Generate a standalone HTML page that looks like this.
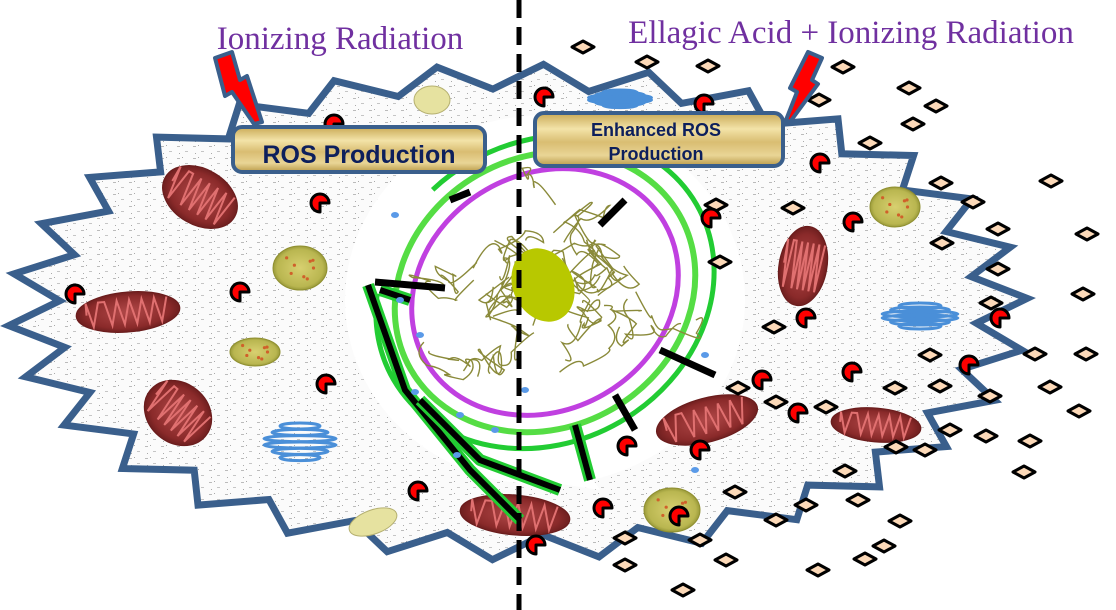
<!DOCTYPE html>
<html><head><meta charset="utf-8"><style>
html,body{margin:0;padding:0;background:#fff;width:1116px;height:610px;overflow:hidden}
svg{display:block}
</style></head><body>
<svg id="s" width="1116" height="610" viewBox="0 0 1116 610" xmlns="http://www.w3.org/2000/svg">
<defs>
<linearGradient id="gold" x1="0" y1="0" x2="0" y2="1">
<stop offset="0" stop-color="#c9a955"/><stop offset="0.3" stop-color="#f3e3a8"/><stop offset="0.55" stop-color="#d9bd72"/><stop offset="0.8" stop-color="#e9d596"/><stop offset="1" stop-color="#b99a48"/>
</linearGradient>
<pattern id="dots" width="16" height="12" patternUnits="userSpaceOnUse">
<rect width="16" height="12" fill="#fbfbfb"/>
<rect x="1" y="2" width="3" height="1" fill="#bbb"/><rect x="9" y="7" width="3" height="1" fill="#c5c5c5"/><rect x="6" y="1" width="1" height="1" fill="#aaa"/><rect x="3" y="9" width="1" height="1" fill="#aaa"/>
</pattern>
<radialGradient id="mito" cx="0.5" cy="0.5" r="0.5"><stop offset="0" stop-color="#b04848"/><stop offset="0.8" stop-color="#8a2a2a"/><stop offset="1" stop-color="#6e1f1f"/></radialGradient>
<radialGradient id="lyso" cx="0.5" cy="0.5" r="0.5"><stop offset="0" stop-color="#d8d070"/><stop offset="0.85" stop-color="#b9b650"/><stop offset="1" stop-color="#9a9a3a"/></radialGradient>
</defs>
<g id="cell"></g>
<ellipse cx="545" cy="300" rx="200" ry="185" fill="#fff"/>
<path d="M360 290 L470 470 L600 490 L560 430 L380 280 Z" fill="#fff"/>
<g id="org"></g>
<g id="nuc"></g>
<g id="dia"></g>
<g id="pac"></g>
<line x1="519" y1="0" x2="519" y2="610" stroke="#000" stroke-width="5" stroke-dasharray="18,9"/>
<polygon points="215,58 232,52 240,80 247,76 262,122 254,124 232,92 225,96" fill="#f00" stroke="#3a5f8c" stroke-width="4" stroke-linejoin="round"/>
<polygon points="808,52 822,58 812,80 818,84 790,122 786,120 797,92 790,88" fill="#f00" stroke="#3a5f8c" stroke-width="4" stroke-linejoin="round"/>
<rect x="233" y="127" width="252" height="45" rx="9" fill="url(#gold)" stroke="#3a5f8c" stroke-width="4"/>
<text x="359" y="163" text-anchor="middle" font-family="Liberation Sans, sans-serif" font-weight="bold" font-size="25" fill="#0d1f5c">ROS Production</text>
<rect x="535" y="113" width="248" height="53" rx="9" fill="url(#gold)" stroke="#3a5f8c" stroke-width="4"/>
<text x="656" y="136" text-anchor="middle" font-family="Liberation Sans, sans-serif" font-weight="bold" font-size="18" fill="#0d1f5c">Enhanced ROS</text>
<text x="656" y="160" text-anchor="middle" font-family="Liberation Sans, sans-serif" font-weight="bold" font-size="18" fill="#0d1f5c">Production</text>
<text x="340" y="49" text-anchor="middle" font-family="Liberation Serif, serif" font-size="33" fill="#7030a0">Ionizing Radiation</text>
<text x="851" y="43" text-anchor="middle" font-family="Liberation Serif, serif" font-size="33" fill="#7030a0">Ellagic Acid + Ionizing Radiation</text>
</svg>
<script>
var NS="http://www.w3.org/2000/svg";
function el(p,t,a){var e=document.createElementNS(NS,t);for(var k in a)e.setAttribute(k,a[k]);document.getElementById(p).appendChild(e);return e;}
var pts=[],N=30,cx=518,cy=312;
for(var i=0;i<N*2;i++){var a=i/(N*2)*Math.PI*2+0.05;var r=(i%2?1:0.9);pts.push((cx+Math.cos(a)*510*r).toFixed(1)+","+(cy+Math.sin(a)*248*r).toFixed(1));}
el("cell","polygon",{points:pts.join(" "),fill:"url(#dots)",stroke:"#3a5f8c","stroke-width":7,"stroke-linejoin":"miter"});
var mitos=[[200,197,40,28,30],[128,312,52,20,-5],[178,413,36,30,40],[803,266,24,40,10],[707,420,52,22,-15],[876,425,45,17,5],[515,515,55,20,5]];
mitos.forEach(function(m){var g=el("org","g",{transform:"translate("+m[0]+","+m[1]+") rotate("+m[4]+")"});
var e=document.createElementNS(NS,"ellipse");e.setAttribute("rx",m[2]);e.setAttribute("ry",m[3]);e.setAttribute("fill","url(#mito)");e.setAttribute("stroke","#6a1c1c");g.appendChild(e);
var p=document.createElementNS(NS,"path");var d="M"+(-m[2]*0.8)+",0";for(var k=-0.8;k<0.8;k+=0.12){d+=" L"+(m[2]*k)+","+(m[3]*0.6*((Math.round(k*8)%2)?1:-1));}
p.setAttribute("d",d);p.setAttribute("stroke","#e07070");p.setAttribute("stroke-width",2);p.setAttribute("fill","none");g.appendChild(p);});
[[300,268,27,22],[895,207,25,20],[255,352,25,14],[672,510,28,22]].forEach(function(l){el("org","ellipse",{cx:l[0],cy:l[1],rx:l[2],ry:l[3],fill:"url(#lyso)",stroke:"#8f8f30"});
for(var j=0;j<8;j++)el("org","circle",{cx:l[0]+Math.cos(j)*l[2]*0.5,cy:l[1]+Math.sin(j*1.7)*l[3]*0.5,r:1.6,fill:"#d0602a"});});
el("org","ellipse",{cx:432,cy:100,rx:18,ry:14,fill:"#e6e2a0",stroke:"#b5b070"});
el("org","ellipse",{cx:373,cy:522,rx:25,ry:12,fill:"#e6e2a0",stroke:"#b5b070",transform:"rotate(-20 373 522)"});
[[300,445,40,38],[920,318,42,24],[620,100,35,14]].forEach(function(g){for(var j=0;j<6;j++)el("org","ellipse",{cx:g[0],cy:g[1]-g[3]/2+j*g[3]/6,rx:g[2]*(1-Math.abs(j-2.5)/5),ry:3,fill:"none",stroke:"#4a8fd8","stroke-width":3});});
el("nuc","ellipse",{cx:545,cy:292,rx:175,ry:150,fill:"none",stroke:"#22cc33","stroke-width":5,transform:"rotate(-30 545 292)","stroke-dasharray":"600,120"});
el("nuc","ellipse",{cx:545,cy:292,rx:155,ry:135,fill:"none",stroke:"#55dd44","stroke-width":6,transform:"rotate(-30 545 292)"});
el("nuc","ellipse",{cx:545,cy:292,rx:138,ry:118,fill:"#fff",stroke:"#c040e0","stroke-width":5,transform:"rotate(-30 545 292)"});
var s=1;function rnd(){s=(s*9301+49297)%233280;return s/233280;}
for(var j=0;j<34;j++){var x=450+rnd()*190,y=190+rnd()*190,d="M"+x+","+y;for(var k=0;k<5;k++){x+=rnd()*60-30;y+=rnd()*50-25;d+=" Q"+(x+rnd()*30-15)+","+(y+rnd()*30-15)+" "+x+","+y;}
el("nuc","path",{d:d,fill:"none",stroke:"#8a8a3a","stroke-width":1.4});}
el("nuc","ellipse",{cx:543,cy:285,rx:30,ry:38,fill:"#b8c800",transform:"rotate(-25 543 285)"});
["M368,285 L405,390 L470,470 L520,520","M420,400 L480,460 L560,490","M575,425 L590,480","M380,290 L410,300"].forEach(function(d){el("nuc","path",{d:d,fill:"none",stroke:"#22cc33","stroke-width":12,"stroke-linejoin":"round"});el("nuc","path",{d:d,fill:"none",stroke:"#000","stroke-width":6});});
[[375,282,445,288],[450,200,470,192],[600,225,625,200],[660,350,715,375],[615,395,635,430]].forEach(function(l){el("nuc","line",{x1:l[0],y1:l[1],x2:l[2],y2:l[3],stroke:"#000","stroke-width":7});});
[[400,300],[420,335],[415,392],[460,415],[457,455],[495,430],[525,390],[705,355],[695,470],[395,150],[395,215]].forEach(function(p){el("nuc","ellipse",{cx:p[0],cy:p[1],rx:4,ry:3,fill:"#5a9ae8"});});
[[583,47],[647,62],[708,66],[843,67],[909,88],[819,100],[936,106],[913,124],[870,143],[1051,181],[941,183],[973,202],[716,205],[793,208],[998,229],[1087,234],[720,262],[942,243],[1083,294],[774,327],[998,269],[991,303],[1035,354],[1086,354],[930,355],[940,386],[895,388],[1079,411],[1030,441],[1024,472],[1050,387],[990,396],[950,430],[986,436],[925,450],[896,447],[845,471],[826,407],[776,402],[738,388],[735,492],[806,505],[776,520],[858,500],[900,521],[865,559],[818,570],[884,546],[700,540],[683,590],[726,560],[625,565],[625,538]].forEach(function(p){
el("dia","polygon",{points:(p[0]-11)+","+p[1]+" "+p[0]+","+(p[1]-6)+" "+(p[0]+11)+","+p[1]+" "+p[0]+","+(p[1]+6),fill:"#fcd9b8",stroke:"#000","stroke-width":3,"stroke-linejoin":"round"});});
[[544,97],[704,104],[334,124],[320,203],[820,163],[853,222],[711,218],[240,292],[75,294],[806,318],[1000,318],[969,365],[852,372],[762,380],[326,384],[798,413],[627,446],[700,450],[418,491],[603,508],[679,516],[536,545]].forEach(function(p){
var x=p[0],y=p[1],r=9;el("pac","path",{d:"M"+x+","+y+" L"+(x+r)+","+y+" A"+r+","+r+" 0 1,0 "+x+","+(y+r)+" Z",fill:"#f00",stroke:"#000","stroke-width":3,"stroke-linejoin":"round"});});
</script>
</body></html>
